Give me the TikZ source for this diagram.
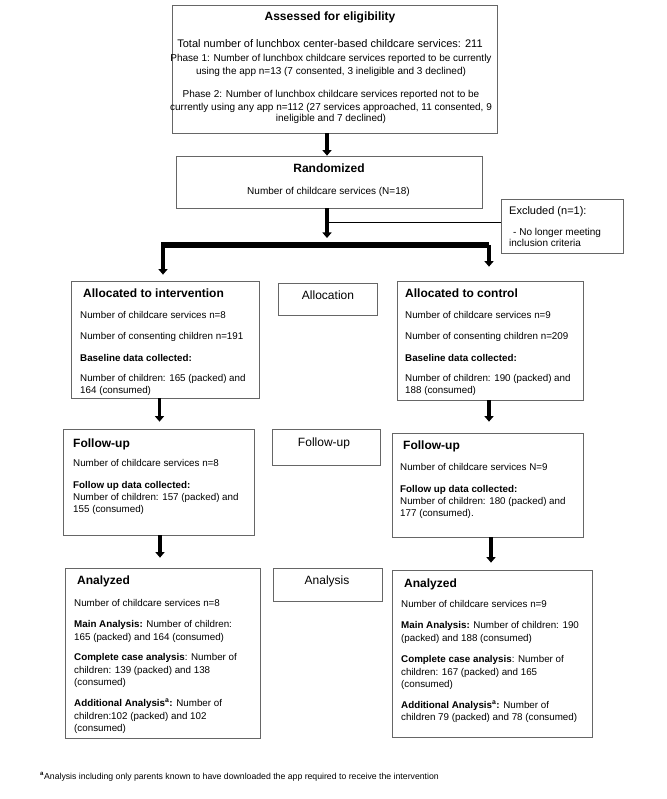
\documentclass[tikz,border=0pt]{standalone}
\usepackage{fontspec}
\setmainfont{Liberation Sans}
\usetikzlibrary{arrows.meta}
\begin{document}
\begin{tikzpicture}[x=1pt,y=-1pt,
  box/.style={draw=black!60, line width=0.7pt, inner sep=0pt, rectangle},
  txt/.style={inner sep=0pt, anchor=base west, font=\fontsize{9.8}{12}\selectfont},
  txtc/.style={inner sep=0pt, anchor=base, font=\fontsize{10}{12}\selectfont},
  ttl/.style={inner sep=0pt, anchor=base west, font=\fontsize{12}{14}\selectfont\bfseries},
  lab/.style={inner sep=0pt, anchor=base, font=\fontsize{12}{14}\selectfont},
  arr/.style={line width=3.5pt, -{Triangle[width=9pt,length=5.5pt]}},
  bar/.style={line width=5.5pt},
  thinline/.style={line width=1.8pt}]
\fill[white] (0,0) rectangle (666,799);
\useasboundingbox (0,0) rectangle (666,799);

% boxes
\node[box, minimum width=325pt, minimum height=128pt] (top) at (334.5,69) {};
\node[box, minimum width=306pt, minimum height=52pt] (rand) at (329,182) {};
\node[box, minimum width=122pt, minimum height=54pt] (excl) at (562,226) {};
\node[box, minimum width=188pt, minimum height=117pt] (allocL) at (165,339.5) {};
\node[box, minimum width=99pt, minimum height=32pt] (allocLab) at (327.5,299) {};
\node[box, minimum width=186pt, minimum height=119pt] (allocR) at (490,340.5) {};
\node[box, minimum width=191pt, minimum height=106pt] (fuL) at (158.5,482) {};
\node[box, minimum width=108pt, minimum height=36pt] (fuLab) at (326,447) {};
\node[box, minimum width=191pt, minimum height=104pt] (fuR) at (487.5,485) {};
\node[box, minimum width=195pt, minimum height=170pt] (anL) at (162.5,653) {};
\node[box, minimum width=109pt, minimum height=33pt] (anLab) at (327.5,584.5) {};
\node[box, minimum width=200pt, minimum height=167pt] (anR) at (492,653.5) {};

% top box text
\node[ttl, anchor=base] (t0) at (330,20.5) {Assessed for eligibility};
\node[txtc, font=\fontsize{11}{13}\selectfont] (t1) at (330,47.3) {Total number of lunchbox center-based childcare services: 211};
\node[txtc] (t2) at (331,62) {Phase 1: Number of lunchbox childcare services reported to be currently};
\node[txtc] (t3) at (331,74.3) {using the app n=13 (7 consented, 3 ineligible and 3 declined)};
\node[txtc] (t4) at (331,98) {Phase 2: Number of lunchbox childcare services reported not to be};
\node[txtc] (t5) at (331,110.3) {currently using any app n=112 (27 services approached, 11 consented, 9};
\node[txtc] (t6) at (331,122) {ineligible and 7 declined)};

% randomized
\node[ttl, anchor=base] (r0) at (329,172.5) {Randomized};
\node[txtc] (r1) at (328.5,194.5) {Number of childcare services (N=18)};

% excluded
\node[txt, font=\fontsize{11}{13}\selectfont] (e0) at (509,214.5) {Excluded (n=1):};
\node[txt, font=\fontsize{10}{12}\selectfont] (e1) at (513,235.5) {- No longer meeting};
\node[txt, font=\fontsize{10}{12}\selectfont] (e2) at (509,246.5) {inclusion criteria};

% side labels
\node[lab] (l1) at (328,299) {Allocation};
\node[lab] (l2) at (324,446) {Follow-up};
\node[lab] (l3) at (327,584) {Analysis};

% allocation left
\node[ttl] (aL0) at (83,297.5) {Allocated to intervention};
\foreach \yy/\s [count=\i] in {318.5/{Number of childcare services n=8},
  339.5/{Number of consenting children n=191},
  361.5/{\textbf{Baseline data collected:}},
  381.5/{Number of children: 165 (packed) and},
  393/{164 (consumed)}}
  \node[txt] (aL\i) at (80,\yy) {\s};

% allocation right
\node[ttl] (aR0) at (405,297.5) {Allocated to control};
\foreach \yy/\s [count=\i] in {318.5/{Number of childcare services n=9},
  339.5/{Number of consenting children n=209},
  361.5/{\textbf{Baseline data collected:}},
  381.5/{Number of children: 190 (packed) and},
  393/{188 (consumed)}}
  \node[txt] (aR\i) at (405,\yy) {\s};

% follow-up left
\node[ttl] (fL0) at (73,447.5) {Follow-up};
\foreach \yy/\s [count=\i] in {466.5/{Number of childcare services n=8},
  488.5/{\textbf{Follow up data collected:}},
  500.5/{Number of children: 157 (packed) and},
  512/{155 (consumed)}}
  \node[txt] (fL\i) at (73,\yy) {\s};

% follow-up right
\node[ttl] (fR0) at (403,449.5) {Follow-up};
\foreach \yy/\s [count=\i] in {470.5/{Number of childcare services N=9},
  492.5/{\textbf{Follow up data collected:}},
  504.5/{Number of children: 180 (packed) and},
  516.5/{177 (consumed).}}
  \node[txt] (fR\i) at (400,\yy) {\s};

% analyzed left
\node[ttl] (nL0) at (77,584.5) {Analyzed};
\foreach \yy/\s [count=\i] in {606.5/{Number of childcare services n=8},
  627.5/{\textbf{Main Analysis:} Number of children:},
  640.5/{165 (packed) and 164 (consumed)},
  660.5/{\textbf{Complete case analysis}: Number of},
  673.5/{children: 139 (packed) and 138},
  685.5/{(consumed)},
  706.5/{\textbf{Additional Analysis\textsuperscript{a}:} Number of},
  719.5/{children:102 (packed) and 102},
  731/{(consumed)}}
  \node[txt] (nL\i) at (74,\yy) {\s};

% analyzed right
\node[ttl] (nR0) at (404,587) {Analyzed};
\foreach \yy/\s [count=\i] in {607.5/{Number of childcare services n=9},
  628.5/{\textbf{Main Analysis:} Number of children: 190},
  641.5/{(packed) and 188 (consumed)},
  662.5/{\textbf{Complete case analysis}: Number of},
  675.5/{children: 167 (packed) and 165},
  687.5/{(consumed)},
  708.5/{\textbf{Additional Analysis\textsuperscript{a}:} Number of},
  720.5/{children 79 (packed) and 78 (consumed)}}
  \node[txt] (nR\i) at (401,\yy) {\s};

% footnote
\node[txt, font=\fontsize{8.7}{10}\selectfont] (fn) at (40,779.5) {\textsuperscript{\textbf{a}}Analysis including only parents known to have downloaded the app required to receive the intervention};

% connectors
\coordinate (cx) at (327,0);
\coordinate (split) at (327,238);
\coordinate (br) at (327,222.5);
\coordinate (bl) at (161,245);
\coordinate (brr) at (489,245);
\coordinate (xl) at (163,0);
\coordinate (xr) at (489,0);
\coordinate (xl2) at (159.5,0);
\coordinate (xr2) at (489,0);
\coordinate (xl3) at (160,0);
\coordinate (xr3) at (491,0);

\draw[arr] (top.south -| cx) -- (rand.north -| cx);
\draw[arr] (rand.south -| cx) -- (split);
\draw[thinline] (br) -- (br -| excl.west);
\draw[bar] (bl) -- (brr);
\draw[arr, shorten >=6pt] (bl -| xl) -- (allocL.north -| xl);
\draw[arr, shorten >=14pt] (brr) -- (allocR.north -| xr);
\draw[arr, shorten >=7pt] (allocL.south -| xl2) -- (fuL.north -| xl2);
\draw[arr, shorten >=11pt] (allocR.south -| xr2) -- (fuR.north -| xr2);
\draw[arr, shorten >=10pt] (fuL.south -| xl3) -- (anL.north -| xl3);
\draw[arr, shorten >=7pt] (fuR.south -| xr3) -- (anR.north -| xr3);
\end{tikzpicture}
\end{document}
